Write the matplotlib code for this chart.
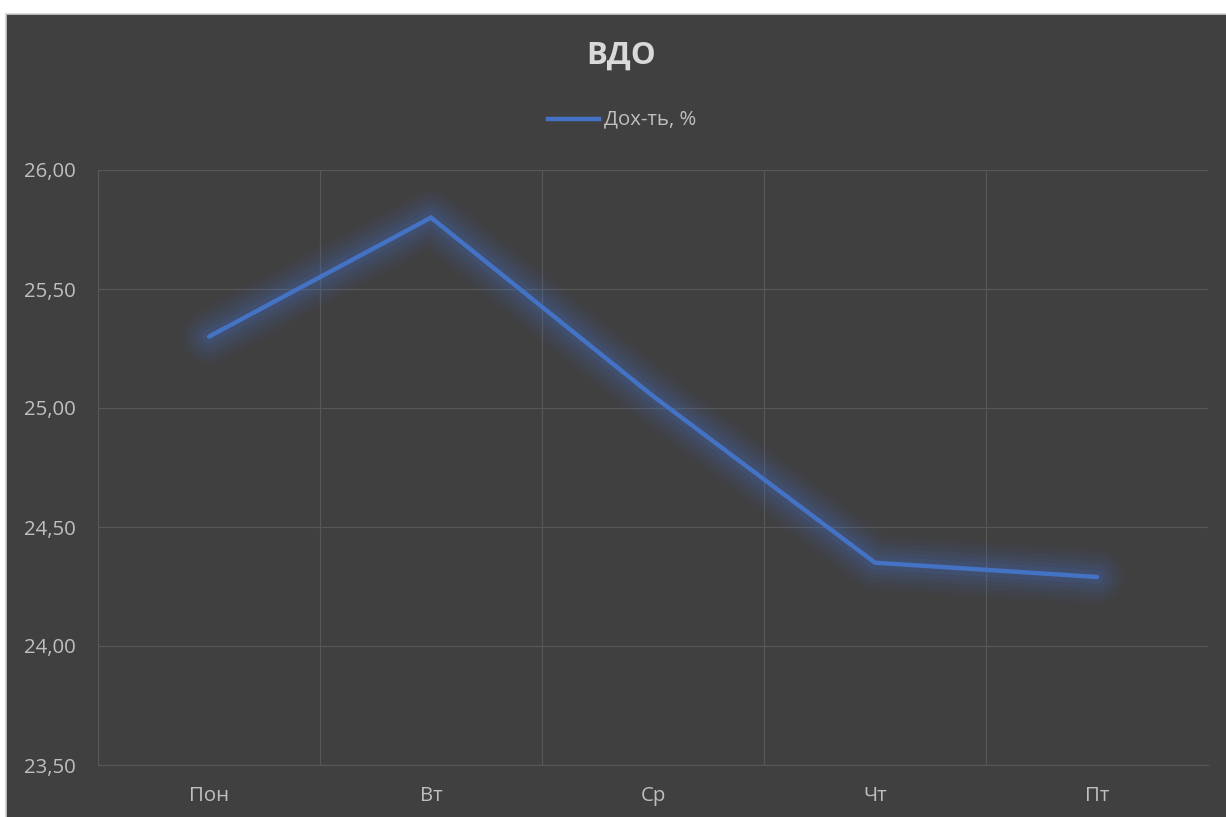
import matplotlib
matplotlib.use("Agg")
import matplotlib.pyplot as plt
from matplotlib.patches import Rectangle
from matplotlib.lines import Line2D
from matplotlib.ticker import FixedLocator, FuncFormatter

categories = ["Пон", "Вт", "Ср", "Чт", "Пт"]
values = [25.30, 25.80, 25.05, 24.35, 24.29]
yticks = [23.5, 24.0, 24.5, 25.0, 25.5, 26.0]
title = "ВДО"
series_name = "Дох-ть, %"

W, H = 1226, 817
fig = plt.figure(figsize=(W / 100, H / 100), dpi=100, facecolor="white")
plt.rcParams["font.family"] = ["Open Sans", "DejaVu Sans"]

bg = "#404040"
fig.patches.append(Rectangle((6 / W, -0.01), 1, 1.01 - 14 / H, transform=fig.transFigure,
                             facecolor=bg, edgecolor="#d0d0d0", linewidth=1.2, zorder=-10))

ax = fig.add_axes([98 / W, 1 - 765 / H, (1208 - 98) / W, (765 - 170) / H])
ax.set_zorder(5)
ax.set_facecolor(bg)
x = list(range(len(categories)))
line_color = "#4472C4"

# glow
for lw, a in [(40, 0.04), (34, 0.05), (28, 0.06), (22, 0.07), (16, 0.09), (10, 0.11)]:
    ax.plot(x, values, color=line_color, linewidth=lw, alpha=a,
            solid_capstyle="round", solid_joinstyle="round", zorder=2)
ax.plot(x, values, color=line_color, linewidth=3.2, solid_capstyle="round",
        solid_joinstyle="miter", zorder=3)

ax.set_xlim(-0.5, len(categories) - 0.5)
ax.set_ylim(yticks[0], yticks[-1])
ax.set_yticks(yticks)
ax.yaxis.set_major_formatter(FuncFormatter(lambda v, p: f"{v:.2f}".replace(".", ",")))
ax.set_xticks(x)
ax.set_xticklabels(categories)
ax.xaxis.set_minor_locator(FixedLocator([i - 0.5 for i in range(len(categories) + 1)]))

grid_c = "#575757"
ax.grid(True, axis="y", which="major", color=grid_c, linewidth=0.9)
ax.grid(True, axis="x", which="minor", color=grid_c, linewidth=0.9)
ax.grid(False, axis="x", which="major")
for s in ax.spines.values():
    s.set_visible(False)
ax.spines["bottom"].set_visible(True)
ax.spines["bottom"].set_color(grid_c)
ax.spines["bottom"].set_linewidth(0.9)
ax.tick_params(axis="both", which="both", length=0, colors="#bfbfbf", labelsize=14.7)
ax.tick_params(axis="y", pad=16)
ax.tick_params(axis="x", pad=15)

fig.text(621 / W, 1 - 56 / H, title, ha="center", va="center", fontsize=22.5,
         fontweight="bold", color="#d9d9d9")
fig.lines.append(Line2D([548 / W, 599 / W], [1 - 119 / H, 1 - 119 / H], transform=fig.transFigure,
                        color=line_color, linewidth=3.2))
fig.text(604 / W, 1 - 119 / H, series_name, ha="left", va="center", fontsize=14.7,
         color="#bfbfbf")

fig.savefig("out.png", dpi=100, facecolor=fig.get_facecolor())
